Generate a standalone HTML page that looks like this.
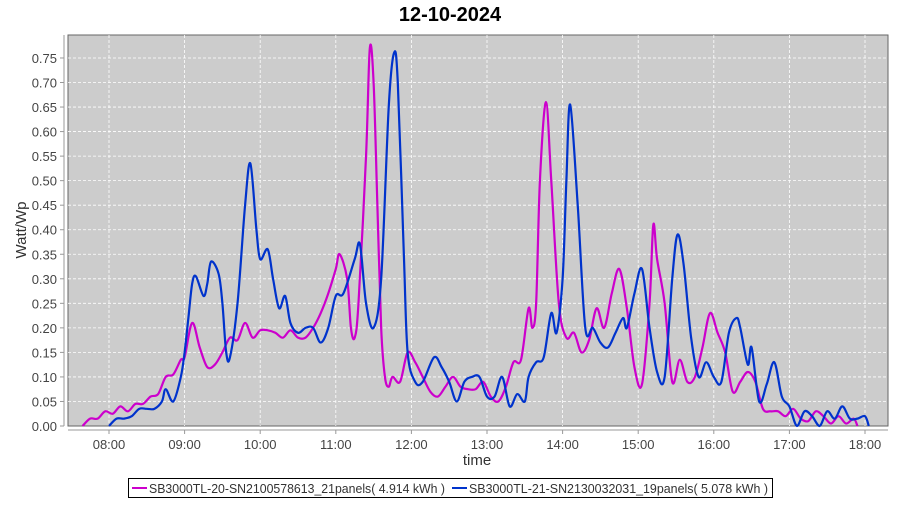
<!DOCTYPE html>
<html><head><meta charset="utf-8"><style>
body{margin:0;background:#fff;}
svg text{font-family:"Liberation Sans","DejaVu Sans",sans-serif;}
</style></head><body>
<svg id="c" width="900" height="500" xmlns="http://www.w3.org/2000/svg">
<text x="450" y="21" text-anchor="middle" font-size="20" font-weight="bold" fill="#000">12-10-2024</text>
<rect x="68" y="35" width="820" height="391" fill="#cccccc" stroke="#666" stroke-width="1"/>
<g id="grid" stroke="#fff" stroke-dasharray="3,2" stroke-width="0.8"></g>
<line x1="64" y1="35" x2="64" y2="426" stroke="#999"/>
<line x1="68" y1="430" x2="888" y2="430" stroke="#999"/>
<g id="ticks" font-size="13" fill="#444"></g>
<text x="477" y="465" text-anchor="middle" font-size="15" fill="#333">time</text>
<text transform="translate(26,230) rotate(-90)" text-anchor="middle" font-size="15" fill="#333">Watt/Wp</text>
<g id="series" fill="none" stroke-width="2.2" stroke-linejoin="round"></g>
<rect x="128.5" y="478.5" width="644" height="19" fill="#fff" stroke="#000"/>
<line x1="132" y1="488" x2="147" y2="488" stroke="#cc00cc" stroke-width="2"/>
<text x="149" y="493" font-size="13" fill="#333" textLength="296" lengthAdjust="spacingAndGlyphs">SB3000TL-20-SN2100578613_21panels( 4.914 kWh )</text>
<line x1="452" y1="488" x2="467" y2="488" stroke="#0033cc" stroke-width="2"/>
<text x="469" y="493" font-size="13" fill="#333" textLength="299" lengthAdjust="spacingAndGlyphs">SB3000TL-21-SN2130032031_19panels( 5.078 kWh )</text>
</svg>
<script>
const NS="http://www.w3.org/2000/svg";
const X=t=>109+(t-8)*75.6, Y=v=>426-v*490.7;
function el(p,n,a,txt){const e=document.createElementNS(NS,n);for(const k in a)e.setAttribute(k,a[k]);if(txt)e.textContent=txt;document.getElementById(p).appendChild(e);}
for(let i=0;i<=15;i++){const v=i*0.05,y=Y(v);if(i>0)el("grid","line",{x1:68,x2:888,y1:y,y2:y});
el("ticks","line",{x1:60,x2:64,y1:y,y2:y,stroke:"#999"});el("ticks","text",{x:57,y:y+5,"text-anchor":"end"},v.toFixed(2));}
for(let h=8;h<=18;h++){const x=X(h);el("grid","line",{x1:x,x2:x,y1:35,y2:426});
el("ticks","line",{x1:x,x2:x,y1:430,y2:434,stroke:"#999"});el("ticks","text",{x:x,y:449,"text-anchor":"middle"},(h<10?"0":"")+h+":00");}
const M=[7.65,0,7.75,.015,7.85,.015,7.95,.03,8.05,.025,8.15,.04,8.25,.03,8.35,.045,8.45,.045,8.55,.06,8.65,.065,8.75,.1,8.85,.105,8.95,.135,9.0,.14,9.1,.21,9.2,.16,9.3,.12,9.4,.125,9.5,.15,9.6,.18,9.7,.175,9.8,.21,9.9,.18,10.0,.195,10.1,.195,10.2,.19,10.3,.18,10.4,.195,10.5,.18,10.6,.18,10.7,.2,10.8,.23,10.9,.27,11.0,.32,11.05,.35,11.15,.3,11.2,.2,11.25,.18,11.3,.25,11.4,.55,11.45,.77,11.5,.7,11.55,.45,11.6,.2,11.65,.1,11.7,.08,11.75,.1,11.85,.09,11.95,.15,12.05,.13,12.15,.1,12.25,.07,12.35,.06,12.45,.08,12.55,.1,12.65,.08,12.75,.075,12.85,.075,12.95,.09,13.05,.06,13.15,.05,13.25,.08,13.35,.13,13.45,.135,13.55,.24,13.6,.2,13.65,.25,13.7,.5,13.78,.66,13.85,.5,13.95,.25,14.05,.18,14.15,.19,14.25,.15,14.35,.175,14.45,.24,14.55,.2,14.65,.27,14.75,.32,14.85,.24,14.95,.12,15.05,.085,15.15,.25,15.2,.41,15.25,.34,15.35,.25,15.45,.09,15.55,.135,15.65,.09,15.75,.1,15.85,.16,15.95,.23,16.05,.19,16.15,.15,16.25,.07,16.35,.09,16.45,.11,16.55,.09,16.65,.035,16.75,.03,16.85,.03,16.95,.02,17.05,.035,17.15,.015,17.25,.01,17.35,.03,17.45,.02,17.55,.005,17.65,.02,17.75,.005,17.85,.015,17.9,0];
const B=[8.0,0,8.1,.015,8.2,.015,8.3,.02,8.4,.035,8.5,.035,8.6,.035,8.7,.05,8.75,.075,8.85,.05,8.95,.1,9.0,.15,9.05,.22,9.1,.29,9.15,.305,9.25,.265,9.3,.29,9.35,.335,9.45,.31,9.5,.25,9.55,.15,9.6,.14,9.7,.25,9.8,.45,9.87,.535,9.95,.4,10.0,.34,10.1,.36,10.17,.3,10.25,.24,10.33,.265,10.4,.21,10.5,.19,10.6,.2,10.7,.2,10.8,.17,10.9,.2,11.0,.265,11.1,.27,11.25,.34,11.32,.37,11.4,.25,11.5,.2,11.6,.3,11.7,.65,11.77,.76,11.82,.7,11.9,.35,11.95,.15,12.05,.09,12.15,.09,12.3,.14,12.4,.12,12.5,.09,12.6,.05,12.7,.09,12.8,.1,12.9,.1,13.0,.06,13.1,.06,13.2,.1,13.3,.04,13.4,.065,13.5,.05,13.55,.1,13.65,.13,13.75,.14,13.85,.23,13.92,.19,14.0,.3,14.05,.5,14.1,.655,14.2,.45,14.3,.2,14.4,.2,14.5,.17,14.6,.16,14.7,.19,14.8,.22,14.85,.2,14.95,.27,15.05,.32,15.15,.2,15.25,.11,15.35,.1,15.45,.3,15.52,.39,15.6,.33,15.7,.18,15.8,.1,15.9,.13,16.0,.1,16.1,.09,16.2,.19,16.3,.22,16.35,.2,16.45,.125,16.5,.16,16.6,.05,16.7,.085,16.8,.13,16.9,.06,17.0,.04,17.1,0,17.2,.03,17.3,.02,17.4,0,17.5,.03,17.6,.015,17.7,.04,17.8,.015,17.9,.015,18.0,.02,18.05,0];
function path(a){const p=[];for(let i=0;i<a.length;i+=2)p.push([X(a[i]),Y(a[i+1])]);
let d="M"+p[0][0]+","+p[0][1];for(let i=0;i<p.length-1;i++){const p0=p[i-1]||p[i],p1=p[i],p2=p[i+1],p3=p[i+2]||p2;
const c1=[p1[0]+(p2[0]-p0[0])/6,p1[1]+(p2[1]-p0[1])/6],c2=[p2[0]-(p3[0]-p1[0])/6,p2[1]-(p3[1]-p1[1])/6];
d+=`C${c1[0]},${Math.min(426,c1[1])} ${c2[0]},${Math.min(426,c2[1])} ${p2[0]},${p2[1]}`;}return d;}
el("series","path",{d:path(M),stroke:"#cc00cc"});
el("series","path",{d:path(B),stroke:"#0033cc"});
</script>
</body></html>
